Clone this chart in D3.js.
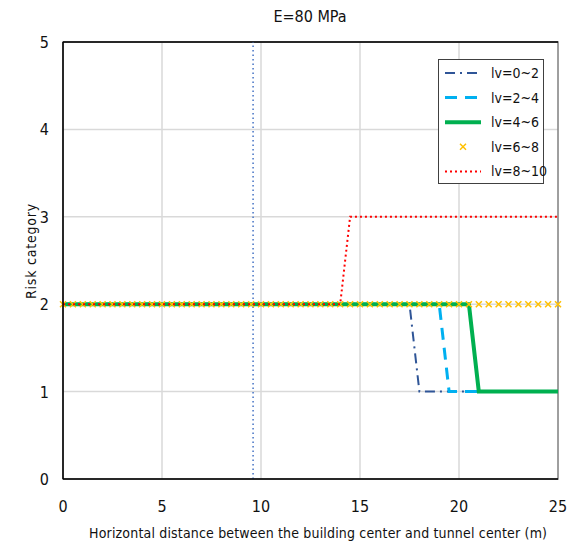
<!DOCTYPE html>
<html>
<head>
<meta charset="utf-8">
<script src="https://cdn.jsdelivr.net/npm/d3@7"></script>
<style>
body { margin:0; background:#fff; }
text { font-family: "Liberation Sans Narrow", "DejaVu Sans Condensed", sans-serif; fill:#111; }
</style>
</head>
<body>
<div id="chart"></div>
<script>
var distances = [0,0.5,1,1.5,2,2.5,3,3.5,4,4.5,5,5.5,6,6.5,7,7.5,8,8.5,9,9.5,
                 10,10.5,11,11.5,12,12.5,13,13.5,14,14.5,15,15.5,16,16.5,17,17.5,18,18.5,19,19.5,
                 20,20.5,21,21.5,22,22.5,23,23.5,24,24.5,25];
var lv0_2  = [2,2,2,2,2,2,2,2,2,2, 2,2,2,2,2,2,2,2,2,2, 2,2,2,2,2,2,2,2,2,2, 2,2,2,2,2,2,1,1,1,1, 1,1,1,1,1,1,1,1,1,1, 1];
var lv2_4  = [2,2,2,2,2,2,2,2,2,2, 2,2,2,2,2,2,2,2,2,2, 2,2,2,2,2,2,2,2,2,2, 2,2,2,2,2,2,2,2,2,1, 1,1,1,1,1,1,1,1,1,1, 1];
var lv4_6  = [2,2,2,2,2,2,2,2,2,2, 2,2,2,2,2,2,2,2,2,2, 2,2,2,2,2,2,2,2,2,2, 2,2,2,2,2,2,2,2,2,2, 2,2,1,1,1,1,1,1,1,1, 1];
var lv6_8  = [2,2,2,2,2,2,2,2,2,2, 2,2,2,2,2,2,2,2,2,2, 2,2,2,2,2,2,2,2,2,2, 2,2,2,2,2,2,2,2,2,2, 2,2,2,2,2,2,2,2,2,2, 2];
var lv8_10 = [2,2,2,2,2,2,2,2,2,2, 2,2,2,2,2,2,2,2,2,2, 2,2,2,2,2,2,2,2,2,3, 3,3,3,3,3,3,3,3,3,3, 3,3,3,3,3,3,3,3,3,3, 3];
var tunnelEdge = 9.6;
var xTicks = [0,5,10,15,20,25];
var yTicks = [0,1,2,3,4,5];
var seriesNames = ["lv=0~2","lv=2~4","lv=4~6","lv=6~8","lv=8~10"];

var size = { width:586, height:547, left:63, top:42, right:558, bottom:479 };

var series = [
  { name:seriesNames[0], values:lv0_2,  color:"#2f5597", width:2,   dash:"10,5,2,5", type:"line" },
  { name:seriesNames[1], values:lv2_4,  color:"#00b0f0", width:3,   dash:"12,8",     type:"line" },
  { name:seriesNames[2], values:lv4_6,  color:"#00b050", width:4,   dash:null,       type:"line" },
  { name:seriesNames[3], values:lv6_8,  color:"#ffc000", width:1.5, dash:null,       type:"marker" },
  { name:seriesNames[4], values:lv8_10, color:"#ff0000", width:2,   dash:"2,3",      type:"line" }
];

var svg = d3.select("#chart").append("svg")
            .attr("width", size.width)
            .attr("height", size.height);

var x = d3.scaleLinear().domain([0,25]).range([size.left, size.right]);
var y = d3.scaleLinear().domain([0,5]).range([size.bottom, size.top]);

// grid
svg.append("g").selectAll("line").data(xTicks.slice(1,-1)).enter().append("line")
   .attr("x1", function(d){ return x(d); }).attr("x2", function(d){ return x(d); })
   .attr("y1", y(0)).attr("y2", y(5))
   .attr("stroke", "#d9d9d9").attr("stroke-width", 1.5);
svg.append("g").selectAll("line").data(yTicks.slice(1,-1)).enter().append("line")
   .attr("x1", x(0)).attr("x2", x(25))
   .attr("y1", function(d){ return y(d); }).attr("y2", function(d){ return y(d); })
   .attr("stroke", "#d9d9d9").attr("stroke-width", 1.5);

// plot box
svg.append("rect").attr("x", x(0)).attr("y", y(5))
   .attr("width", x(25)-x(0)).attr("height", y(0)-y(5))
   .attr("fill", "none").attr("stroke", "#7f7f7f").attr("stroke-width", 1.5);
svg.append("line").attr("x1", x(0)).attr("x2", x(25)).attr("y1", y(5)).attr("y2", y(5))
   .attr("stroke", "#000").attr("stroke-width", 1.3);

// tunnel edge
svg.append("line")
   .attr("x1", x(tunnelEdge)).attr("x2", x(tunnelEdge))
   .attr("y1", y(0)).attr("y2", y(5))
   .attr("stroke", "#4472c4").attr("stroke-width", 1.5).attr("stroke-dasharray", "1.5,3");

var line = d3.line()
   .x(function(d){ return x(d[0]); })
   .y(function(d){ return y(d[1]); });

series.forEach(function(s){
  var pts = distances.map(function(d,i){ return [d, s.values[i]]; });
  if (s.type == "line") {
    svg.append("path").datum(pts)
       .attr("d", line)
       .attr("fill", "none")
       .attr("stroke", s.color)
       .attr("stroke-width", s.width)
       .attr("stroke-dasharray", s.dash);
  } else {
    var g = svg.append("g");
    g.selectAll("path").data(pts).enter().append("path")
     .attr("d", "M-3,-3L3,3M-3,3L3,-3")
     .attr("transform", function(d){ return "translate(" + x(d[0]) + "," + y(d[1]) + ")"; })
     .attr("stroke", s.color).attr("stroke-width", s.width).attr("fill", "none");
  }
});

// axes lines
svg.append("line").attr("x1", x(0)).attr("x2", x(0)).attr("y1", y(0)).attr("y2", y(5))
   .attr("stroke", "#000").attr("stroke-width", 1.5);
svg.append("line").attr("x1", x(0)).attr("x2", x(25)).attr("y1", y(0)).attr("y2", y(0))
   .attr("stroke", "#000").attr("stroke-width", 1.5);

// tick labels
svg.append("g").selectAll("text").data(xTicks).enter().append("text")
   .attr("x", function(d){ return x(d); }).attr("y", 512)
   .attr("text-anchor", "middle").style("font-size", "16px")
   .text(function(d){ return d; });
svg.append("g").selectAll("text").data(yTicks).enter().append("text")
   .attr("x", 49).attr("y", function(d){ return y(d) + 6; })
   .attr("text-anchor", "end").style("font-size", "16px")
   .text(function(d){ return d; });

// titles
svg.append("text").attr("x", 310).attr("y", 22).attr("text-anchor", "middle")
   .style("font-size", "16px").text("E=80 MPa");
svg.append("text").attr("x", 318).attr("y", 538).attr("text-anchor", "middle")
   .style("font-size", "14px").attr("textLength", 458)
   .text("Horizontal distance between the building center and tunnel center (m)");
svg.append("text").attr("transform", "translate(36,251) rotate(-90)").attr("text-anchor", "middle")
   .style("font-size", "14px").style("letter-spacing", "0.8px").text("Risk category");

// legend
var legend = svg.append("g");
legend.append("rect").attr("x", 438.5).attr("y", 59.5).attr("width", 105).attr("height", 124)
      .attr("fill", "#fff").attr("stroke", "#404040").attr("stroke-width", 1);
series.forEach(function(s, i){
  var ly = 73 + i*24.6;
  if (s.type == "line") {
    legend.append("line").attr("x1", 445).attr("x2", 481).attr("y1", ly).attr("y2", ly)
          .attr("stroke", s.color).attr("stroke-width", s.width)
          .attr("stroke-dasharray", s.dash);
  } else {
    legend.append("path").attr("d", "M-3,-3L3,3M-3,3L3,-3")
          .attr("transform", "translate(463," + ly + ")")
          .attr("stroke", s.color).attr("stroke-width", s.width);
  }
  legend.append("text").attr("x", 491).attr("y", ly + 5).style("font-size", "14px").text(s.name);
});
</script>
</body>
</html>
